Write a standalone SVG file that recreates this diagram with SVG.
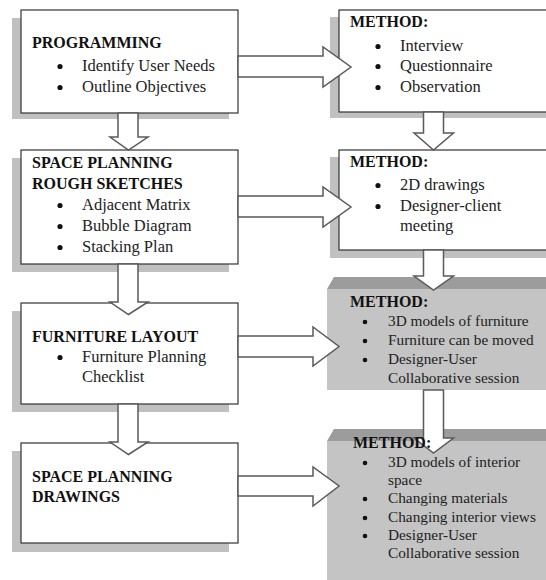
<svg xmlns="http://www.w3.org/2000/svg" width="546" height="580" viewBox="0 0 546 580">
<style>
.box{fill:#ffffff;stroke:#333333;stroke-width:1.2}
.shadow{fill:#c0c0c0;stroke:none}
.front{fill:#c4c4c4;stroke:none}
.top{fill:#9c9c9c;stroke:none}
.arrow{fill:#ffffff;stroke:#5a5a5a;stroke-width:1.5;stroke-linejoin:miter}
.t{font-family:"Liberation Serif","Times New Roman",serif;font-size:16px;font-weight:bold;fill:#111111}
.b{font-family:"Liberation Serif","Times New Roman",serif;font-size:16.5px;fill:#222222}
.s{font-family:"Liberation Serif","Times New Roman",serif;font-size:15.3px;fill:#222222}
.dot{fill:#111111}
</style>
<rect width="546" height="580" fill="#ffffff"/>

<g id="programming">
<rect class="shadow" x="12" y="18" width="217" height="101"/>
<rect class="box" x="21" y="10" width="217" height="103"/>
<text class="t" x="32" y="48">PROGRAMMING</text>
<circle class="dot" cx="60" cy="66.5" r="2.6"/>
<text class="b" x="82" y="71">Identify User Needs</text>
<circle class="dot" cx="60" cy="87.5" r="2.6"/>
<text class="b" x="82" y="92">Outline Objectives</text>
</g>

<g id="method1">
<rect class="shadow" x="330" y="17" width="216" height="101"/>
<rect class="box" x="339" y="10" width="215" height="102"/>
<text class="t" x="350" y="27">METHOD:</text>
<circle class="dot" cx="378" cy="46.5" r="2.6"/>
<text class="b" x="400" y="51">Interview</text>
<circle class="dot" cx="378" cy="66.5" r="2.6"/>
<text class="b" x="400" y="71">Questionnaire</text>
<circle class="dot" cx="378" cy="87.5" r="2.6"/>
<text class="b" x="400" y="92">Observation</text>
</g>

<g id="roughsketches">
<rect class="shadow" x="12" y="158" width="217" height="114"/>
<rect class="box" x="21" y="150" width="217" height="114"/>
<text class="t" x="32" y="168">SPACE PLANNING</text>
<text class="t" x="32" y="189">ROUGH SKETCHES</text>
<circle class="dot" cx="60" cy="205.5" r="2.6"/>
<text class="b" x="82" y="210">Adjacent Matrix</text>
<circle class="dot" cx="60" cy="226.5" r="2.6"/>
<text class="b" x="82" y="231">Bubble Diagram</text>
<circle class="dot" cx="60" cy="247.5" r="2.6"/>
<text class="b" x="82" y="252">Stacking Plan</text>
</g>

<g id="method2">
<rect class="shadow" x="330" y="157" width="216" height="101"/>
<rect class="box" x="339" y="150" width="215" height="100"/>
<text class="t" x="350" y="167">METHOD:</text>
<circle class="dot" cx="378" cy="185.5" r="2.6"/>
<text class="b" x="400" y="190">2D drawings</text>
<circle class="dot" cx="378" cy="206.5" r="2.6"/>
<text class="b" x="400" y="211">Designer-client</text>
<text class="b" x="400" y="231">meeting</text>
</g>

<g id="furniturelayout">
<rect class="shadow" x="12" y="311" width="217" height="101"/>
<rect class="box" x="21" y="303" width="217" height="101"/>
<text class="t" x="32" y="342">FURNITURE LAYOUT</text>
<circle class="dot" cx="60" cy="357.5" r="2.6"/>
<text class="b" x="82" y="362">Furniture Planning</text>
<text class="b" x="82" y="382">Checklist</text>
</g>

<g id="method3">
<polygon class="top" points="327,289 334,277 546,277 546,289"/>
<rect class="front" x="327" y="289" width="219" height="101"/>
<text class="t" x="350" y="307">METHOD:</text>
<circle class="dot" cx="365" cy="322" r="2.3"/>
<text class="s" x="388" y="326">3D models of furniture</text>
<circle class="dot" cx="365" cy="341" r="2.3"/>
<text class="s" x="388" y="345">Furniture can be moved</text>
<circle class="dot" cx="365" cy="360" r="2.3"/>
<text class="s" x="388" y="364">Designer-User</text>
<text class="s" x="388" y="383">Collaborative session</text>
</g>

<g id="drawings">
<rect class="shadow" x="12" y="451" width="217" height="101"/>
<rect class="box" x="21" y="443" width="217" height="100"/>
<text class="t" x="32" y="482">SPACE PLANNING</text>
<text class="t" x="32" y="502">DRAWINGS</text>
</g>

<g id="method4">
<polygon class="top" points="327,441 334,429 546,429 546,441"/>
<rect class="front" x="327" y="441" width="219" height="139"/>
<circle class="dot" cx="365" cy="463" r="2.3"/>
<text class="s" x="388" y="467">3D models of interior</text>
<text class="s" x="388" y="485">space</text>
<circle class="dot" cx="365" cy="499" r="2.3"/>
<text class="s" x="388" y="503">Changing materials</text>
<circle class="dot" cx="365" cy="518" r="2.3"/>
<text class="s" x="388" y="522">Changing interior views</text>
<circle class="dot" cx="365" cy="536" r="2.3"/>
<text class="s" x="388" y="540">Designer-User</text>
<text class="s" x="388" y="558">Collaborative session</text>
</g>

<g id="connectors">
<polygon class="arrow" points="238,56 323,56 323,47 351,67 323,87 323,77 238,77"/>
<polygon class="arrow" points="238,196 323,196 323,187 351,207 323,227 323,217 238,217"/>
<polygon class="arrow" points="238,336 313,336 313,327 339,346.5 313,366 313,357 238,357"/>
<polygon class="arrow" points="238,476 313,476 313,467 339,486 313,506 313,496 238,496"/>
<polygon class="arrow" points="118,113 138,113 138,137 148,137 128.5,150 110,137 118,137"/>
<polygon class="arrow" points="118,264 138,264 138,302 148,302 128.5,314.5 110,302 118,302"/>
<polygon class="arrow" points="118,404 138,404 138,442 148,442 128.5,454.5 110,442 118,442"/>
<polygon class="arrow" points="423.5,112 443.5,112 443.5,133 453.5,133 433.5,150 414,133 423.5,133"/>
<polygon class="arrow" points="423.5,250 443.5,250 443.5,276 453.5,276 433.5,290 414,276 423.5,276"/>
<polygon class="arrow" points="423.5,390 443.5,390 443.5,438 453.5,438 433.5,453 414,438 423.5,438"/>
</g>
<text class="t" x="353" y="448">METHOD:</text>
</svg>
